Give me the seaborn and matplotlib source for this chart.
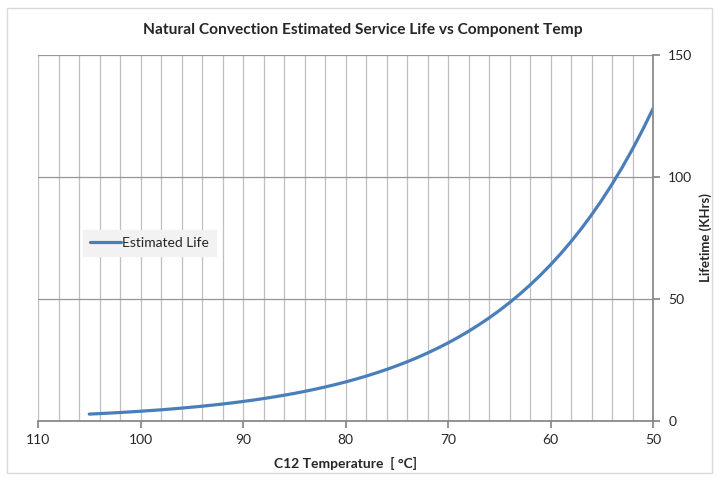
import matplotlib
matplotlib.use("Agg")
import matplotlib.pyplot as plt
import seaborn as sns
import pandas as pd
from matplotlib.patches import Rectangle

temps = [105, 104, 103, 102, 101, 100, 99, 98, 97, 96, 95, 94, 93, 92, 91, 90,
         89, 88, 87, 86, 85, 84, 83, 82, 81, 80, 79, 78, 77, 76, 75, 74, 73, 72,
         71, 70, 69, 68, 67, 66, 65, 64, 63, 62, 61, 60, 59, 58, 57, 56, 55, 54,
         53, 52, 51, 50]
life_khrs = [2.83, 3.03, 3.25, 3.48, 3.73, 4.00, 4.29, 4.59, 4.92, 5.28, 5.66,
             6.06, 6.50, 6.96, 7.46, 8.00, 8.57, 9.19, 9.85, 10.56, 11.31, 12.13,
             13.00, 13.93, 14.93, 16.00, 17.15, 18.38, 19.70, 21.11, 22.63, 24.25,
             25.99, 27.86, 29.86, 32.00, 34.30, 36.76, 39.40, 42.22, 45.25, 48.50,
             51.98, 55.72, 59.71, 64.00, 68.59, 73.52, 78.79, 84.45, 90.51, 97.01,
             103.97, 111.43, 119.43, 128.00]
x_ticks = [110, 100, 90, 80, 70, 60, 50]
y_ticks = [0, 50, 100, 150]

sns.set_theme(style="white")
plt.rcParams['font.family'] = ['Lato', 'DejaVu Sans']

df = pd.DataFrame({"T": temps, "Life": life_khrs})

fig = plt.figure(figsize=(7.19, 4.80), dpi=100)
ax = fig.add_axes([38/719, 1-421/480, (653-38)/719, (421-55)/480])

# outer border
fig.patches.append(Rectangle((7/719, 7/480), 705/719, 465/480, transform=fig.transFigure,
                             fill=False, edgecolor="#d9d9d9", linewidth=1.0))

sns.lineplot(data=df, x="T", y="Life", ax=ax, color="#4a7ebb", linewidth=2.3,
             label="Estimated Life")

ax.set_xlim(110, 50)
ax.set_ylim(0, 150)
ax.set_xticks(x_ticks)
ax.set_xticks(list(range(50, 111, 2)), minor=True)
ax.set_yticks(y_ticks)
ax.grid(which="both", axis="x", color="#bfbfbf", linewidth=0.9)
ax.grid(which="major", axis="y", color="#969696", linewidth=0.9)
ax.set_axisbelow(True)

ax.yaxis.tick_right()
ax.yaxis.set_label_position("right")
for s in ["top", "left"]:
    ax.spines[s].set_visible(False)
ax.spines["bottom"].set_color("#868686")
ax.spines["right"].set_color("#868686")
ax.tick_params(axis="x", which="major", direction="out", length=5, color="#868686",
               bottom=True, labelsize=10, pad=4)
ax.tick_params(axis="x", which="minor", length=0)
ax.tick_params(axis="y", direction="out", length=5, color="#868686", right=True,
               labelsize=10, pad=6)

ax.set_xlabel("C12 Temperature  [ °C]", fontsize=10, fontweight="bold", labelpad=8)
ax.set_ylabel("Lifetime (KHrs)", fontsize=9.5, fontweight="bold", labelpad=5)
fig.text(363/719, 1 - 30/480, "Natural Convection Estimated Service Life vs Component Temp",
         ha="center", va="center", fontsize=11.2, fontweight="bold")

leg = ax.legend(loc="upper left", bbox_to_anchor=((83-38)/615, (421-230)/366),
                frameon=True, fancybox=False, fontsize=10, handlelength=2.2,
                handletextpad=0.1, borderpad=0.5, borderaxespad=0)
leg.get_frame().set_facecolor("#f2f2f2")
leg.get_frame().set_edgecolor("#f2f2f2")
leg.get_frame().set_alpha(1)

fig.savefig("out.png", dpi=100)
